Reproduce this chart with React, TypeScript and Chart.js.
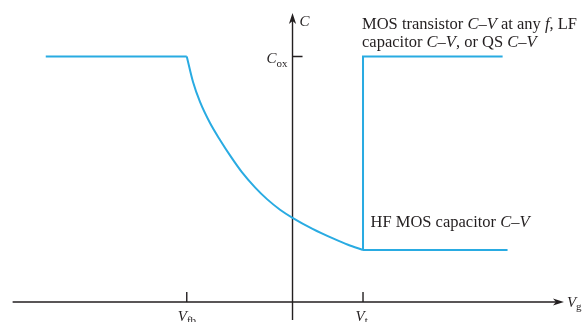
import { useEffect, useRef } from "react";
import { Chart, registerables } from "chart.js";

Chart.register(...registerables);

// Gate-voltage landmarks and oxide capacitance (normalised units)
const V_FB = -1.5;
const V_T = 1.0;
const C_OX = 1.0;

// Accumulation plateau, C = Cox
const accumulationX = [-3.5, -1.5];
const accumulationY = [1.0, 1.0];

// Depletion region of the high-frequency curve
const depletionX = [-1.5, -1.411, -1.312, -1.17, -1.028, -0.872, -0.721, -0.532, -0.362, -0.177, 0, 0.291, 0.574, 0.787, 1.0];
const depletionY = [1.0, 0.896, 0.815, 0.729, 0.66, 0.591, 0.53, 0.467, 0.419, 0.376, 0.343, 0.297, 0.259, 0.233, 0.212];

// HF inversion plateau (Cmin)
const hfInversionX = [1.0, 3.05];
const hfInversionY = [0.212, 0.212];

// LF / quasi-static / transistor curve: jumps back to Cox at Vt
const lfInversionX = [1.0, 1.0, 2.98];
const lfInversionY = [0.212, 1.0, 1.0];

// Extent of the drawn axes
const AXIS_X_FROM = -3.97;
const AXIS_X_TO = 3.85;
const AXIS_Y_FROM = -0.073;
const AXIS_Y_TO = 1.177;

const CURVE_COLOR = "#29abe2";
const INK = "#231f20";
const FONT = '"Liberation Serif", "Times New Roman", serif';

type Run = { t: string; italic?: boolean; sub?: boolean };

const zip = (xs: number[], ys: number[]) => xs.map((x, i) => ({ x, y: ys[i] }));

function drawRuns(ctx: CanvasRenderingContext2D, x: number, y: number, runs: Run[], size: number, align: "left" | "center" | "right" = "left") {
  const fontFor = (r: Run) => `${r.italic ? "italic " : ""}${r.sub ? Math.round(size * 0.7) : size}px ${FONT}`;
  let total = 0;
  for (const r of runs) {
    ctx.font = fontFor(r);
    total += ctx.measureText(r.t).width;
  }
  let cx = align === "left" ? x : align === "center" ? x - total / 2 : x - total;
  ctx.textAlign = "left";
  ctx.textBaseline = "alphabetic";
  for (const r of runs) {
    ctx.font = fontFor(r);
    ctx.fillText(r.t, cx, y + (r.sub ? size * 0.22 : 0));
    cx += ctx.measureText(r.t).width;
  }
}

const axesPlugin = {
  id: "cvAxes",
  beforeDatasetsDraw(chart: any) {
    const { ctx, scales } = chart;
    const xs = scales.x;
    const ys = scales.y;
    const x0 = xs.getPixelForValue(0);
    const y0 = ys.getPixelForValue(0);
    const xL = xs.getPixelForValue(AXIS_X_FROM);
    const xR = xs.getPixelForValue(AXIS_X_TO);
    const yB = ys.getPixelForValue(AXIS_Y_FROM);
    const yT = ys.getPixelForValue(AXIS_Y_TO);
    ctx.save();
    ctx.strokeStyle = INK;
    ctx.fillStyle = INK;
    ctx.lineWidth = 1.4;
    ctx.beginPath();
    ctx.moveTo(xL, y0);
    ctx.lineTo(xR - 6, y0);
    ctx.moveTo(x0, yB);
    ctx.lineTo(x0, yT + 6);
    // ticks at Vfb, Vt and Cox
    for (const v of [V_FB, V_T]) {
      const px = xs.getPixelForValue(v);
      ctx.moveTo(px, y0);
      ctx.lineTo(px, y0 - 10);
    }
    const pc = ys.getPixelForValue(C_OX);
    ctx.moveTo(x0, pc);
    ctx.lineTo(x0 + 10, pc);
    ctx.stroke();
    // arrow heads
    ctx.beginPath();
    ctx.moveTo(xR, y0);
    ctx.lineTo(xR - 11, y0 - 3.6);
    ctx.lineTo(xR - 8, y0);
    ctx.lineTo(xR - 11, y0 + 3.6);
    ctx.closePath();
    ctx.fill();
    ctx.beginPath();
    ctx.moveTo(x0, yT);
    ctx.lineTo(x0 - 3.6, yT + 11);
    ctx.lineTo(x0, yT + 8);
    ctx.lineTo(x0 + 3.6, yT + 11);
    ctx.closePath();
    ctx.fill();
    ctx.restore();
  },
  afterDraw(chart: any) {
    const { ctx, scales } = chart;
    const xs = scales.x;
    const ys = scales.y;
    const x0 = xs.getPixelForValue(0);
    const y0 = ys.getPixelForValue(0);
    const xFb = xs.getPixelForValue(V_FB);
    const xT = xs.getPixelForValue(V_T);
    const yCox = ys.getPixelForValue(C_OX);
    const yMin = ys.getPixelForValue(hfInversionY[0]);
    const xR = xs.getPixelForValue(AXIS_X_TO);
    const yT = ys.getPixelForValue(AXIS_Y_TO);
    const size = 15;
    const note = 16.5;
    ctx.save();
    ctx.fillStyle = INK;
    drawRuns(ctx, x0 + 7, yT + 13, [{ t: "C", italic: true }], size);
    drawRuns(ctx, x0 - 5, yCox + 7, [{ t: "C", italic: true }, { t: "ox", sub: true }], size, "right");
    drawRuns(ctx, xFb - 9, y0 + 19, [{ t: "V", italic: true }, { t: "fb", sub: true }], size);
    drawRuns(ctx, xT - 7.5, y0 + 19, [{ t: "V", italic: true }, { t: "t", sub: true }], size);
    drawRuns(ctx, xR + 3, y0 + 5, [{ t: "V", italic: true }, { t: "g", sub: true }], size);
    drawRuns(ctx, xT - 1, yCox - 27, [
      { t: "MOS transistor " },
      { t: "C–V", italic: true },
      { t: " at any " },
      { t: "f", italic: true },
      { t: ", LF" },
    ], note);
    drawRuns(ctx, xT - 1, yCox - 9.5, [
      { t: "capacitor " },
      { t: "C–V", italic: true },
      { t: ", or QS " },
      { t: "C–V", italic: true },
    ], note);
    drawRuns(ctx, xT + 7.5, yMin - 23, [
      { t: "HF MOS capacitor " },
      { t: "C–V", italic: true },
    ], note);
    ctx.restore();
  },
};

export default function App() {
  const canvasRef = useRef<HTMLCanvasElement | null>(null);

  useEffect(() => {
    if (!canvasRef.current) return;
    const line = (data: { x: number; y: number }[], monotone = false) => ({
      data,
      borderColor: CURVE_COLOR,
      borderWidth: 2,
      pointRadius: 0,
      fill: false,
      tension: monotone ? 0.4 : 0,
      cubicInterpolationMode: monotone ? ("monotone" as const) : ("default" as const),
      borderJoinStyle: "miter" as const,
      showLine: true,
    });
    const chart = new Chart(canvasRef.current, {
      type: "scatter",
      data: {
        datasets: [
          line(zip(accumulationX, accumulationY)),
          line(zip(depletionX, depletionY), true),
          line(zip(hfInversionX, hfInversionY)),
          line(zip(lfInversionX, lfInversionY)),
        ],
      },
      options: {
        animation: false,
        responsive: false,
        devicePixelRatio: 1,
        layout: { padding: 0 },
        plugins: { legend: { display: false }, tooltip: { enabled: false } },
        events: [],
        scales: {
          x: { type: "linear", display: false, min: -4.149, max: 4.106 },
          y: { type: "linear", display: false, min: -0.0815, max: 1.2301 },
        },
      },
      plugins: [axesPlugin],
    });
    return () => chart.destroy();
  }, []);

  return (
    <div style={{ position: "absolute", left: 0, top: 0, width: 582, height: 322, background: "#fff" }}>
      <canvas ref={canvasRef} width={582} height={322} />
    </div>
  );
}
